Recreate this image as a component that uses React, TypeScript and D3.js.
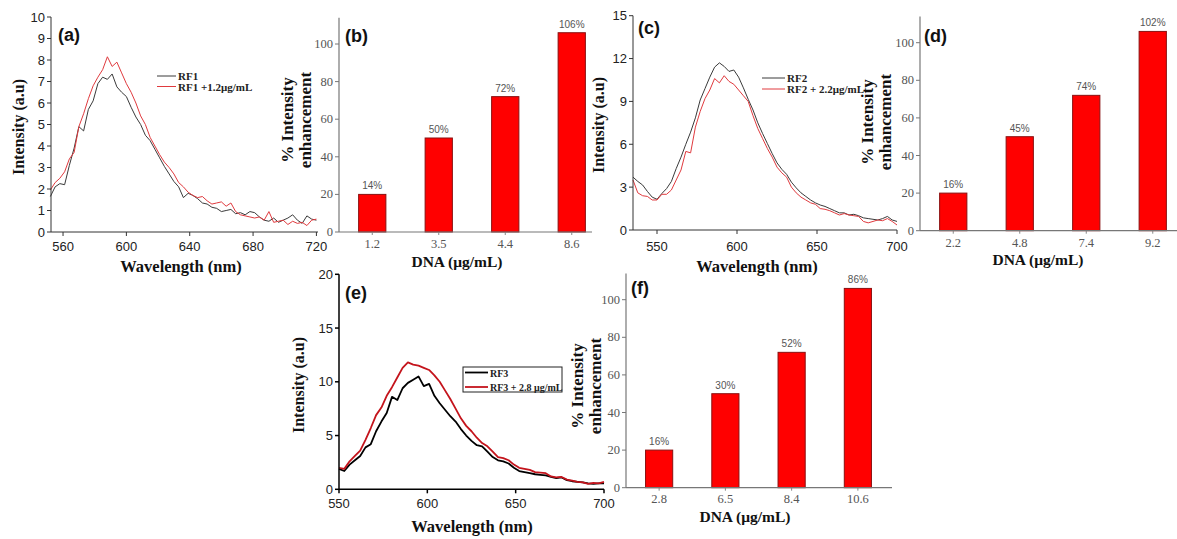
import React from 'react';
import * as d3 from 'd3';

// ---------- Panel (a) ----------
const wlA = [552,555,558,561,564,567,570,573,576,579,582,585,588,591,594,597,600,603,606,609,612,615,618,621,624,627,630,633,636,639,642,645,648,651,654,657,660,663,666,669,672,675,678,681,684,687,690,693,696,699,702,705,708,711,714,717,720];
const rf1 = [1.65,2.1,2.25,2.2,3.1,3.9,4.9,4.7,5.7,6.1,6.9,7.2,7.1,7.35,6.75,6.5,6.3,5.8,5.35,5.0,4.5,4.25,3.85,3.45,3.05,2.7,2.35,2.1,1.6,1.8,1.7,1.55,1.35,1.3,1.15,1.1,0.95,1.0,1.05,0.85,0.9,0.8,0.95,0.9,0.7,0.55,0.5,0.65,0.45,0.55,0.65,0.8,0.55,0.4,0.75,0.6,0.55];
const rf1Dna = [1.95,2.3,2.5,2.8,3.4,3.7,4.9,5.5,6.2,6.8,7.2,7.55,8.15,7.7,7.9,7.4,6.9,6.5,6.0,5.4,5.0,4.4,4.0,3.6,3.25,3.0,2.7,2.3,2.1,1.85,1.7,1.6,1.65,1.45,1.3,1.35,1.4,1.2,1.35,0.95,0.8,0.75,0.7,0.65,0.7,0.55,0.95,0.45,0.5,0.55,0.35,0.5,0.4,0.45,0.3,0.55,0.6];
const xTicksA = [560, 600, 640, 680, 720];
const yTicksA = [0, 1, 2, 3, 4, 5, 6, 7, 8, 9, 10];

// ---------- Panel (c) ----------
const wlC = [535,538,541,544,547,550,553,556,559,562,565,568,571,574,577,580,583,586,589,592,595,598,601,604,607,610,613,616,619,622,625,628,631,634,637,640,643,646,649,652,655,658,661,664,667,670,673,676,679,682,685,688,691,694,697,700];
const rf2 = [3.7,3.4,3.15,2.7,2.3,2.15,2.55,2.9,3.4,4.3,5.1,6.0,6.85,7.85,9.1,9.9,10.7,11.4,11.7,11.45,11.1,11.2,10.7,9.95,9.15,8.4,7.5,6.75,6.05,5.35,4.7,4.25,3.9,3.35,2.95,2.6,2.35,2.1,1.9,1.75,1.65,1.5,1.35,1.2,1.2,1.05,1.1,1.0,0.85,0.8,0.75,0.7,0.8,0.95,0.7,0.6];
const rf2Dna = [3.5,2.6,2.4,2.35,2.1,2.1,2.5,2.5,2.8,3.5,4.2,5.5,5.4,7.2,8.3,9.2,9.8,10.6,10.3,10.8,10.4,10.2,9.8,9.4,9.0,8.0,7.1,6.4,5.7,5.1,4.4,4.0,3.7,3.0,2.6,2.3,2.1,1.9,1.8,1.5,1.45,1.35,1.2,1.05,1.15,1.05,1.0,0.95,0.6,0.5,0.6,0.7,0.65,0.8,0.6,0.35];
const xTicksC = [550, 600, 650, 700];
const yTicksC = [0, 3, 6, 9, 12, 15];

// ---------- Panel (e) ----------
const wlE = [550,553,556,559,562,565,568,571,574,577,580,583,586,589,592,595,598,601,604,607,610,613,616,619,622,625,628,631,634,637,640,643,646,649,652,655,658,661,664,667,670,673,676,679,682,685,688,691,694,697,700];
const rf3 = [1.9,1.7,2.3,2.7,3.1,3.9,4.2,5.4,6.3,7.1,8.6,8.3,9.4,9.9,10.2,10.5,9.6,9.8,8.7,8.0,7.4,6.8,6.3,5.6,5.0,4.5,4.1,4.0,3.5,3.0,2.7,2.6,2.4,2.0,1.7,1.6,1.5,1.4,1.35,1.3,1.15,1.05,1.1,0.85,0.75,0.7,0.65,0.55,0.5,0.55,0.55];
const rf3Dna = [2.0,1.9,2.6,3.1,3.6,4.6,5.7,6.9,7.6,8.7,9.5,10.4,11.3,11.8,11.6,11.5,11.3,11.1,10.6,10.0,9.2,8.4,7.5,6.6,5.9,5.4,4.8,4.3,4.0,3.5,3.0,2.9,2.7,2.3,2.0,1.9,1.8,1.6,1.55,1.5,1.2,1.1,1.15,0.9,0.8,0.7,0.65,0.5,0.6,0.55,0.7];
const xTicksE = [550, 600, 650, 700];
const yTicksE = [0, 5, 10, 15, 20];

// ---------- Bar panels ----------
const dnaB = ['1.2', '3.5', '4.4', '8.6'];
const enhB = [20, 50, 72, 106];
const pctB = ['14%', '50%', '72%', '106%'];
const dnaD = ['2.2', '4.8', '7.4', '9.2'];
const enhD = [20, 50, 72, 106];
const pctD = ['16%', '45%', '74%', '102%'];
const dnaF = ['2.8', '6.5', '8.4', '10.6'];
const enhF = [20, 50, 72, 106];
const pctF = ['16%', '30%', '52%', '86%'];
const barTicks = [0, 20, 40, 60, 80, 100];

const SANS = 'Liberation Sans, Arial, sans-serif';
const SERIF = 'Liberation Serif, Times New Roman, serif';

type Series = { xs: number[]; ys: number[]; color: string; width: number; name: string };

function Spectrum(p: {
  xDomain: [number, number]; xRange: [number, number];
  yDomain: [number, number]; yRange: [number, number];
  xTicks: number[]; yTicks: number[]; series: Series[];
  tag: string; tagPos: [number, number];
  yLabelPos: [number, number]; xLabelPos: [number, number];
  xTickBase: number; axisColor: string; axisWidth: number;
  legend: { x: number; y: number; len: number; gap: number; size: number; box?: [number, number, number, number] };
}) {
  const x = d3.scaleLinear().domain(p.xDomain).range(p.xRange);
  const y = d3.scaleLinear().domain(p.yDomain).range(p.yRange);
  const line = d3.line<[number, number]>().x(d => x(d[0])).y(d => y(d[1]));
  const x0 = p.xRange[0];
  const yb = p.yRange[0];
  return (
    <g>
      {p.series.map((s, i) => (
        <path key={i} d={line(s.xs.map((v, j) => [v, s.ys[j]] as [number, number])) || ''}
          fill="none" stroke={s.color} strokeWidth={s.width} strokeLinejoin="round" />
      ))}
      <line x1={x0} x2={x0} y1={yb} y2={y(p.yDomain[1])} stroke={p.axisColor} strokeWidth={p.axisWidth} />
      <line x1={x0} x2={p.xRange[1]} y1={yb} y2={yb} stroke={p.axisColor} strokeWidth={p.axisWidth} />
      {p.yTicks.map(t => (
        <g key={'y' + t}>
          <line x1={x0 - 4} x2={x0} y1={y(t)} y2={y(t)} stroke={p.axisColor} strokeWidth={p.axisWidth} />
          <text x={x0 - 6} y={y(t) + 4.5} textAnchor="end" fontFamily={SANS} fontSize={13} fill="#222">{t}</text>
        </g>
      ))}
      {p.xTicks.map(t => (
        <g key={'x' + t}>
          <line x1={x(t)} x2={x(t)} y1={yb} y2={yb + 4} stroke={p.axisColor} strokeWidth={p.axisWidth} />
          <text x={x(t)} y={p.xTickBase} textAnchor="middle" fontFamily={SANS} fontSize={13} fill="#222">{t}</text>
        </g>
      ))}
      <text x={p.tagPos[0]} y={p.tagPos[1]} fontFamily={SANS} fontWeight="bold" fontSize={18} fill="#111">{p.tag}</text>
      <text transform={`translate(${p.yLabelPos[0]},${p.yLabelPos[1]}) rotate(-90)`} textAnchor="middle"
        dominantBaseline="central" fontFamily={SERIF} fontWeight="bold" fontSize={16} fill="#111">Intensity (a.u)</text>
      <text x={p.xLabelPos[0]} y={p.xLabelPos[1]} textAnchor="middle" fontFamily={SERIF} fontWeight="bold"
        fontSize={16.5} fill="#111">Wavelength (nm)</text>
      {p.legend.box && (
        <rect x={p.legend.box[0]} y={p.legend.box[1]} width={p.legend.box[2]} height={p.legend.box[3]}
          fill="#fff" stroke="#222" strokeWidth={1} />
      )}
      {p.series.map((s, i) => (
        <g key={'l' + i}>
          <line x1={p.legend.x} x2={p.legend.x + p.legend.len} y1={p.legend.y + i * p.legend.gap}
            y2={p.legend.y + i * p.legend.gap} stroke={s.color} strokeWidth={s.width} />
          <text x={p.legend.x + p.legend.len + 2} y={p.legend.y + i * p.legend.gap + 4}
            fontFamily={SERIF} fontWeight="bold" fontSize={p.legend.size} fill="#222">{s.name}</text>
        </g>
      ))}
    </g>
  );
}

function Bars(p: {
  cats: string[]; vals: number[]; pcts: string[];
  bandRange: [number, number]; axisEnd: number;
  y0: number; y100: number; tag: string; tagPos: [number, number];
  yLab1: number; yLab2: number; yLabY: number;
  tickBase: number; xLabelPos: [number, number];
}) {
  const x = d3.scaleBand<string>().domain(p.cats).range(p.bandRange).paddingInner(0.59).paddingOuter(0.295);
  const y = d3.scaleLinear().domain([0, 100]).range([p.y0, p.y100]);
  const x0 = p.bandRange[0];
  return (
    <g>
      {p.cats.map((c, i) => {
        const cx = (x(c) || 0) + x.bandwidth() / 2;
        return (
          <g key={c}>
            <rect x={x(c)} y={y(p.vals[i])} width={x.bandwidth()} height={y(0) - y(p.vals[i])}
              fill="#ff0000" stroke="#8a1010" strokeWidth={1} />
            <text x={cx} y={y(p.vals[i]) - 5} textAnchor="middle"
              fontFamily={SANS} fontSize={10} fill="#555">{p.pcts[i]}</text>
            <line x1={cx} x2={cx} y1={y(0)} y2={y(0) + 3} stroke="#888" strokeWidth={1} />
            <text x={cx} y={p.tickBase} textAnchor="middle"
              fontFamily={SERIF} fontSize={12.5} fill="#555">{c}</text>
          </g>
        );
      })}
      <line x1={x0} x2={x0} y1={y(0)} y2={y(114)} stroke="#777" strokeWidth={1.2} />
      <line x1={x0} x2={p.axisEnd} y1={y(0)} y2={y(0)} stroke="#777" strokeWidth={1.2} />
      {barTicks.map(t => (
        <g key={t}>
          <line x1={x0 - 4} x2={x0} y1={y(t)} y2={y(t)} stroke="#777" strokeWidth={1} />
          <text x={x0 - 6} y={y(t) + 4} textAnchor="end" fontFamily={SERIF} fontSize={12.5} fill="#555">{t}</text>
        </g>
      ))}
      <text x={p.tagPos[0]} y={p.tagPos[1]} fontFamily={SANS} fontWeight="bold" fontSize={18} fill="#111">{p.tag}</text>
      <text transform={`translate(${p.yLab1},${p.yLabY}) rotate(-90)`} textAnchor="middle" dominantBaseline="central"
        fontFamily={SERIF} fontWeight="bold" fontSize={17} fill="#111">% Intensity</text>
      <text transform={`translate(${p.yLab2},${p.yLabY}) rotate(-90)`} textAnchor="middle" dominantBaseline="central"
        fontFamily={SERIF} fontWeight="bold" fontSize={17} fill="#111">enhancement</text>
      <text x={p.xLabelPos[0]} y={p.xLabelPos[1]} textAnchor="middle" fontFamily={SERIF} fontWeight="bold"
        fontSize={15.5} fill="#111">DNA (μg/mL)</text>
    </g>
  );
}

export default function App() {
  return (
    <svg width={1177} height={539} style={{ position: 'absolute', left: 0, top: 0, background: '#fff' }}>
      <rect width={1177} height={539} fill="#fff" />
      <Spectrum xDomain={[552.4, 721]} xRange={[51, 318]} yDomain={[0, 10]} yRange={[232, 17]}
        xTicks={xTicksA} yTicks={yTicksA}
        series={[
          { xs: wlA, ys: rf1, color: '#3a3a3a', width: 1, name: 'RF1' },
          { xs: wlA, ys: rf1Dna, color: '#e03a3e', width: 1, name: 'RF1 +1.2μg/mL' },
        ]}
        tag="(a)" tagPos={[58, 41]} yLabelPos={[18, 127]} xLabelPos={[181, 272]} xTickBase={251}
        axisColor="#333" axisWidth={1}
        legend={{ x: 157, y: 76, len: 19, gap: 10.5, size: 11 }} />
      <Bars cats={dnaB} vals={enhB} pcts={pctB} bandRange={[339, 605]} axisEnd={592}
        y0={232} y100={44} tag="(b)" tagPos={[345, 42]} yLab1={287} yLab2={305} yLabY={120}
        tickBase={248} xLabelPos={[457, 267]} />
      <Spectrum xDomain={[535, 700]} xRange={[633, 897]} yDomain={[0, 15]} yRange={[230, 15.7]}
        xTicks={xTicksC} yTicks={yTicksC}
        series={[
          { xs: wlC, ys: rf2, color: '#3a3a3a', width: 1, name: 'RF2' },
          { xs: wlC, ys: rf2Dna, color: '#e03a3e', width: 1, name: 'RF2 + 2.2μg/mL' },
        ]}
        tag="(c)" tagPos={[638, 34]} yLabelPos={[598, 125]} xLabelPos={[757, 272]} xTickBase={251}
        axisColor="#333" axisWidth={1}
        legend={{ x: 762, y: 78, len: 23, gap: 11, size: 11 }} />
      <Bars cats={dnaD} vals={enhD} pcts={pctD} bandRange={[920, 1186]} axisEnd={1177}
        y0={230.7} y100={42.7} tag="(d)" tagPos={[924, 42]} yLab1={867} yLab2={885} yLabY={122}
        tickBase={247} xLabelPos={[1038, 265]} />
      <Spectrum xDomain={[550, 700]} xRange={[339, 604]} yDomain={[0, 20]} yRange={[489.3, 274.3]}
        xTicks={xTicksE} yTicks={yTicksE}
        series={[
          { xs: wlE, ys: rf3, color: '#000', width: 1.8, name: 'RF3' },
          { xs: wlE, ys: rf3Dna, color: '#c4141c', width: 1.8, name: 'RF3 + 2.8 μg/mL' },
        ]}
        tag="(e)" tagPos={[345, 299]} yLabelPos={[298, 385]} xLabelPos={[472, 532]} xTickBase={508}
        axisColor="#000" axisWidth={1.5}
        legend={{ x: 465, y: 372.5, len: 23, gap: 14.5, size: 10, box: [463, 367, 99, 25] }} />
      <Bars cats={dnaF} vals={enhF} pcts={pctF} bandRange={[626, 891]} axisEnd={892}
        y0={487.7} y100={299.7} tag="(f)" tagPos={[631, 294]} yLab1={577} yLab2={595} yLabY={386}
        tickBase={503} xLabelPos={[745, 522]} />
    </svg>
  );
}
